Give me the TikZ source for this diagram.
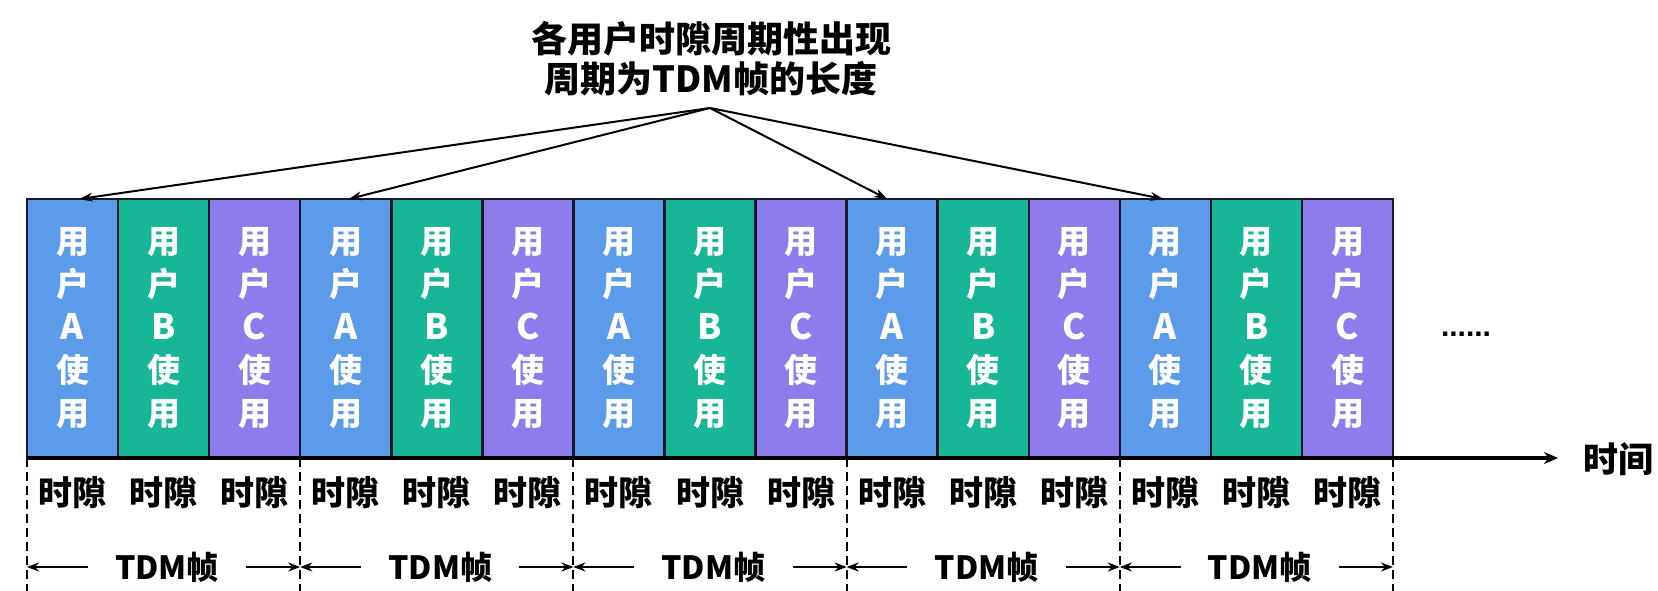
\documentclass[tikz,border=0pt]{standalone}
\usepackage{fontspec}
\newfontfamily\cjk{Noto Sans CJK SC}
\newfontfamily\lat{Liberation Sans}
\usetikzlibrary{arrows.meta}
\definecolor{ua}{RGB}{91,155,233}
\definecolor{ub}{RGB}{22,182,150}
\definecolor{uc}{RGB}{140,124,236}
\definecolor{edge}{RGB}{20,24,40}
\tikzset{
  slotbox/.style={draw=edge, line width=2.5pt, inner sep=0pt, outer sep=0pt,
    minimum width=91.07pt, minimum height=259pt, align=center, text=white,
    font=\cjk\bfseries\fontsize{33}{43}\selectfont},
  lbl/.style={font=\cjk\bfseries\fontsize{34}{40}\selectfont, text=black, inner sep=0pt},
  pointer/.style={line width=2pt, -{Stealth[length=13pt,width=9pt]}},
  framedash/.style={line width=2pt, dash pattern=on 9pt off 5pt},
  span/.style={line width=2pt, -{Stealth[length=12pt,width=9pt]}},
  axis/.style={line width=3.2pt, -{Stealth[length=14pt,width=12pt]}}
}
\newcommand{\slottext}[1]{用\\户\\{\fontsize{35}{43}\selectfont #1}\\使\\用}
\begin{document}
\begin{tikzpicture}[x=1pt,y=-1pt]
\useasboundingbox (0,0) rectangle (1658,591);
% slots
\foreach \i/\c/\u in {0/ua/A,1/ub/B,2/uc/C,3/ua/A,4/ub/B,5/uc/C,6/ua/A,7/ub/B,8/uc/C,9/ua/A,10/ub/B,11/uc/C,12/ua/A,13/ub/B,14/uc/C}{
  \node[slotbox, fill=\c] (s\i) at ({27+91.07*\i+45.53}, 328.5) {\slottext{\u}};
  \node[lbl] (t\i) at ({27+91.07*\i+45.53}, 493) {时隙};
}
% title
\node[lbl, font=\cjk\bfseries\fontsize{36}{40}\selectfont, align=center] (title) at (711,59) {各用户时隙周期性出现\\周期为TDM帧的长度};
\coordinate (apex) at (710,108);
\draw[pointer] (apex) -- ([xshift=7pt]s0.north);
\draw[pointer] (apex) -- ([xshift=3pt]s3.north);
\draw[pointer] (apex) -- ([xshift=-5pt]s9.north);
\draw[pointer] (apex) -- ([xshift=-2pt]s12.north);
% frame dashed lines
\foreach \j in {0,3,6,9,12}{
  \draw[framedash] (s\j.south west) -- ++(0,133);
}
\draw[framedash] (s14.south east) -- ++(0,133);
% TDM frame labels and arrows
\foreach \k in {0,...,4}{
  \pgfmathsetmacro\xa{27+273.2*\k}
  \node[lbl, font=\cjk\bfseries\fontsize{32}{40}\selectfont] (f\k) at ({\xa+140}, 567) {TDM帧};
  \coordinate (fl\k) at (\xa, 567);
  \coordinate (fr\k) at ({\xa+273.2}, 567);
  \draw[span] ([xshift=-27pt]f\k.west) -- (fl\k);
  \draw[span] ([xshift=27pt]f\k.east) -- (fr\k);
}
% time axis
\coordinate (axend) at (1558,458);
\draw[axis] (s0.south west) -- (axend);
\node[lbl, font=\cjk\bfseries\fontsize{35}{40}\selectfont] (time) at (1618,459) {时间};
% ellipsis
\node[font=\lat\bfseries\fontsize{30}{36}\selectfont, anchor=base, inner sep=0pt] (dots) at (1466,336) {......};
\end{tikzpicture}
\end{document}
